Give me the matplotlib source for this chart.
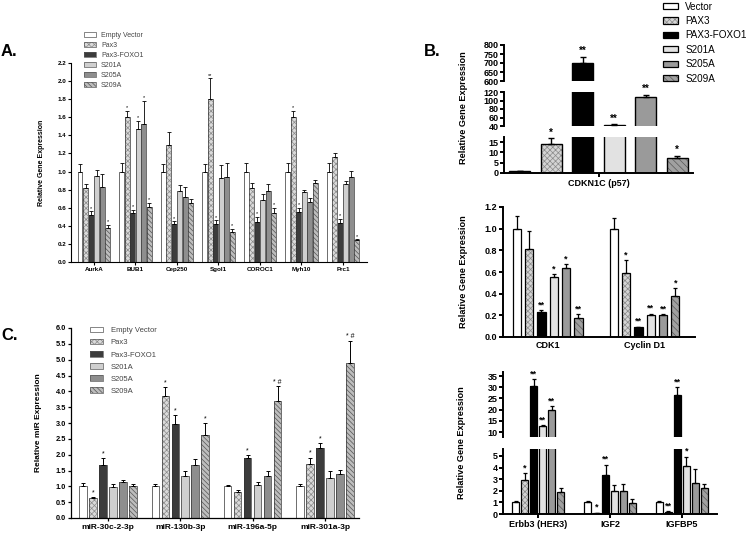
import numpy as np
import matplotlib
matplotlib.use('Agg')
import matplotlib.pyplot as plt
from matplotlib.patches import Patch

plt.rcParams['font.family'] = ['Liberation Sans', 'DejaVu Sans']
plt.rcParams['hatch.linewidth'] = 0.5

W, H = 747, 533

# ---------------- data ----------------
conds_ac = ['Empty Vector', 'Pax3', 'Pax3-FOXO1', 'S201A', 'S205A', 'S209A']
conds_b = ['Vector', 'PAX3', 'PAX3-FOXO1', 'S201A', 'S205A', 'S209A']

# Panel A: rows = genes, columns = conditions
genes_a = ['AurkA', 'BUB1', 'Cep250', 'Sgol1', 'COROC1', 'Myh10', 'Prc1']
a_means = [[1.0, 0.82, 0.52, 0.95, 0.83, 0.38],
           [1.0, 1.60, 0.54, 1.47, 1.53, 0.61],
           [1.0, 1.29, 0.42, 0.79, 0.72, 0.65],
           [1.0, 1.80, 0.42, 0.93, 0.94, 0.33],
           [1.0, 0.82, 0.44, 0.68, 0.78, 0.54],
           [1.0, 1.60, 0.55, 0.77, 0.66, 0.87],
           [1.0, 1.16, 0.43, 0.86, 0.94, 0.24]]
a_errs = [[0.08, 0.04, 0.04, 0.07, 0.14, 0.03],
          [0.09, 0.07, 0.04, 0.09, 0.25, 0.04],
          [0.08, 0.15, 0.03, 0.06, 0.11, 0.05],
          [0.08, 0.23, 0.04, 0.14, 0.15, 0.04],
          [0.10, 0.05, 0.06, 0.07, 0.08, 0.06],
          [0.10, 0.07, 0.05, 0.03, 0.05, 0.04],
          [0.09, 0.05, 0.05, 0.04, 0.07, 0.01]]
a_stars = [['', '', '*', '', '', '*'],
           ['', '*', '*', '*', '*', '*'],
           ['', '', '*', '', '', ''],
           ['', '**', '*', '', '', '*'],
           ['', '', '*', '', '', '*'],
           ['', '*', '*', '', '', ''],
           ['', '', '*', '', '', '*']]

# Panel C
mirs_c = ['miR-30c-2-3p', 'miR-130b-3p', 'miR-196a-5p', 'miR-301a-3p']
c_means = [[1.0, 0.62, 1.67, 0.98, 1.14, 1.01],
           [1.0, 3.85, 2.97, 1.34, 1.66, 2.63],
           [1.0, 0.82, 1.91, 1.03, 1.32, 3.68],
           [1.0, 1.69, 2.22, 1.26, 1.38, 4.88]]
c_errs = [[0.10, 0.04, 0.21, 0.08, 0.06, 0.07],
          [0.08, 0.28, 0.28, 0.14, 0.21, 0.37],
          [0.04, 0.07, 0.07, 0.12, 0.15, 0.48],
          [0.06, 0.22, 0.14, 0.24, 0.14, 0.72]]
c_stars = [['', '*', '*', '', '', ''],
           ['', '*', '*', '', '', '*'],
           ['', '', '*', '', '', '* #'],
           ['', '*', '*', '', '', '* #']]

# Panel B top (CDKN1C)
genes_b1 = ['CDKN1C (p57)']
b1_means = [[1.0, 14.0, 700.0, 43.0, 108.0, 7.2]]
b1_errs = [[0.1, 2.8, 35.0, 1.5, 5.0, 1.3]]
b1_stars = [['', '*', '**', '**', '**', '*']]

# Panel B middle
genes_b2 = ['CDK1', 'Cyclin D1']
b2_means = [[1.0, 0.81, 0.23, 0.55, 0.64, 0.18],
            [1.0, 0.59, 0.09, 0.20, 0.20, 0.38]]
b2_errs = [[0.12, 0.17, 0.015, 0.03, 0.03, 0.03],
           [0.10, 0.12, 0.005, 0.015, 0.01, 0.07]]
b2_stars = [['', '', '**', '*', '*', '**'],
            ['', '*', '**', '**', '**', '*']]

# Panel B bottom
genes_b3 = ['Erbb3 (HER3)', 'IGF2', 'IGFBP5']
b3_means = [[1.0, 2.95, 30.5, 12.5, 20.0, 1.9],
            [1.0, 0.10, 3.4, 1.95, 1.95, 0.95],
            [1.0, 0.20, 26.5, 4.1, 2.7, 2.2]]
b3_errs = [[0.12, 0.6, 3.0, 0.5, 1.5, 0.35],
           [0.15, 0.02, 0.85, 0.55, 0.6, 0.3],
           [0.08, 0.03, 3.5, 0.85, 1.15, 0.4]]
b3_stars = [['', '*', '**', '**', '**', ''],
            ['', '*', '**', '', '', ''],
            ['', '**', '**', '*', '', '']]

# ---------------- styles ----------------
# (face, hatch, hatch colour)
style_ac = [('white', '', 'none'),
            ('#dadada', 'xxxxxx', '#8a8a8a'),
            ('#3c3c3c', '', 'none'),
            ('#cfcfcf', '', 'none'),
            ('#8e8e8e', '', 'none'),
            ('#bdbdbd', '\\\\\\\\\\\\\\', '#555555')]
style_b = [('white', '', 'none'),
           ('#d4d4d4', 'xxxxxx', '#8a8a8a'),
           ('black', '', 'none'),
           ('#e2e2e2', '', 'none'),
           ('#9a9a9a', '', 'none'),
           ('#a0a0a0', '\\\\\\\\\\', '#5a5a5a')]


def px_axes(fig, x0, y0, x1, y1):
    return fig.add_axes([x0 / W, 1 - y1 / H, (x1 - x0) / W, (y1 - y0) / H])


def draw_bars(ax, means, errs, stars, styles, pitch, width, edge, lw,
              elw, cap, star_size):
    means = np.array(means)
    errs = np.array(errs)
    ngene, ncond = means.shape
    for j in range(ncond):
        x = np.arange(ngene) + (j - (ncond - 1) / 2) * pitch
        face, hatch, hcol = styles[j]
        ax.bar(x, means[:, j], width, color=face, hatch=hatch,
               edgecolor=hcol, linewidth=0)
        ax.bar(x, means[:, j], width, fill=False, edgecolor=edge,
               linewidth=lw)
        ax.errorbar(x, means[:, j], yerr=[np.zeros(ngene), errs[:, j]],
                    fmt='none', ecolor='black', elinewidth=elw,
                    capsize=cap, capthick=elw)
        for i in range(ngene):
            if stars[i][j]:
                ax.annotate(stars[i][j], (x[i], means[i, j] + errs[i, j]),
                            xytext=(0, 0.5), textcoords='offset points',
                            ha='center', va='bottom', fontsize=star_size,
                            fontweight='bold' if star_size > 5 else 'normal')


def legend_handles(styles, edge, lw):
    return [(Patch(facecolor=f, hatch=h, edgecolor=hc, linewidth=0),
             Patch(fill=False, edgecolor=edge, linewidth=lw))
            for f, h, hc in styles]


fig = plt.figure(figsize=(W / 100, H / 100), dpi=100)

# ================= Panel A =================
axA = px_axes(fig, 71, 63, 367, 262)
draw_bars(axA, a_means, a_errs, a_stars, style_ac, 0.133, 0.118,
          '#333333', 0.5, 0.6, 1.2, 4)
axA.set_xlim(-0.55, 6.58)
axA.set_ylim(0, 2.2)
axA.set_yticks(np.arange(0, 2.21, 0.2))
axA.set_yticklabels([f'{v:.1f}' for v in np.arange(0, 2.21, 0.2)])
axA.set_xticks(range(len(genes_a)))
axA.set_xticklabels(genes_a)
for s in ['top', 'right']:
    axA.spines[s].set_visible(False)
for s in ['left', 'bottom']:
    axA.spines[s].set_linewidth(0.8)
axA.tick_params(labelsize=4.5, width=0.8, length=2, pad=1.5)
for t in axA.get_xticklabels() + axA.get_yticklabels():
    t.set_fontweight('bold')
axA.set_ylabel('Relative Gene Expression', fontsize=5, fontweight='bold')
axA.yaxis.set_label_coords(-0.088, 0.5)
fig.legend(legend_handles(style_ac, '#555555', 0.5), conds_ac,
           loc='upper left', bbox_to_anchor=(84 / W, 1 - 32 / H),
           frameon=False, fontsize=5, handlelength=1.75, handleheight=0.75,
           handletextpad=0.7, labelspacing=0.42, borderpad=0,
           borderaxespad=0, labelcolor='#444444')

# ================= Panel C =================
axC = px_axes(fig, 71, 328, 359, 518)
draw_bars(axC, c_means, c_errs, c_stars, style_ac, 0.138, 0.104,
          '#333333', 0.5, 0.7, 1.5, 5)
axC.set_xlim(-0.51, 3.47)
axC.set_ylim(0, 6)
axC.set_yticks(np.arange(0, 6.01, 0.5))
axC.set_yticklabels([f'{v:.1f}' for v in np.arange(0, 6.01, 0.5)])
axC.set_xticks(range(len(mirs_c)))
axC.set_xticklabels(mirs_c)
for s in ['top', 'right']:
    axC.spines[s].set_visible(False)
for s in ['left', 'bottom']:
    axC.spines[s].set_linewidth(0.9)
axC.tick_params(axis='y', labelsize=5.3, width=0.9, length=2, pad=1.5)
axC.tick_params(axis='x', labelsize=6, width=0.9, length=2.5, pad=1.5)
for t in axC.get_xticklabels() + axC.get_yticklabels():
    t.set_fontweight('bold')
axC.set_ylabel('Relative miR Expression', fontsize=6, fontweight='bold')
axC.yaxis.set_label_coords(-0.10, 0.5)
axC.legend(legend_handles(style_ac, '#555555', 0.5), conds_ac,
           loc='upper left', bbox_to_anchor=(90 / W, 1 - 327 / H),
           bbox_transform=fig.transFigure,
           frameon=False, fontsize=5.5, handlelength=1.7, handleheight=0.7,
           handletextpad=1.0, labelspacing=0.62, borderpad=0,
           borderaxespad=0, labelcolor='#444444')


# ================= Panel B helpers =================
def style_b_axis(ax, show_x):
    for s in ['top', 'right']:
        ax.spines[s].set_visible(False)
    ax.spines['left'].set_linewidth(1.4)
    ax.spines['bottom'].set_linewidth(1.4)
    if not show_x:
        ax.spines['bottom'].set_visible(False)
        ax.set_xticks([])
    ax.tick_params(labelsize=6.5, width=1.4, length=3, pad=1)
    for t in ax.get_yticklabels() + ax.get_xticklabels():
        t.set_fontweight('bold')


# B top: three-segment broken axis
b1_segments = [((45, 81), (600, 800), [600, 650, 700, 750, 800]),
               ((92, 126), (40, 120), [40, 60, 80, 100, 120]),
               ((137, 173), (0, 17.5), [0, 5, 10, 15])]
for k, ((ytop, ybot), lim, ticks) in enumerate(b1_segments):
    ax = px_axes(fig, 504, ytop, 693, ybot)
    draw_bars(ax, b1_means, b1_errs, b1_stars, style_b, 1.0, 0.68,
              'black', 1.0, 1.0, 2.5, 7)
    ax.set_xlim(-3.0, 3.0)
    ax.set_ylim(*lim)
    ax.set_yticks(ticks)
    last = k == len(b1_segments) - 1
    if last:
        ax.set_xticks([0])
        ax.set_xticklabels(genes_b1, fontsize=6.8)
    style_b_axis(ax, last)
fig.text(463 / W, 1 - 108 / H, 'Relative Gene Expression', rotation=90,
         ha='center', va='center', fontsize=6.6, fontweight='bold')

fig.legend(legend_handles(style_b, 'black', 0.9), conds_b,
           loc='upper left', bbox_to_anchor=(663 / W, 1 - 1.5 / H),
           frameon=False, fontsize=7.1, handlelength=1.5, handleheight=0.6,
           handletextpad=0.75, labelspacing=0.45, borderpad=0,
           borderaxespad=0)

# B middle
axB2 = px_axes(fig, 503, 207, 695, 337)
draw_bars(axB2, b2_means, b2_errs, b2_stars, style_b, 0.127, 0.085,
          'black', 0.9, 0.9, 1.6, 6.5)
axB2.set_xlim(-0.46, 1.52)
axB2.set_ylim(0, 1.2)
axB2.set_yticks(np.arange(0, 1.21, 0.2))
axB2.set_yticklabels([f'{v:.1f}' for v in np.arange(0, 1.21, 0.2)])
axB2.set_xticks(range(len(genes_b2)))
axB2.set_xticklabels(genes_b2, fontsize=6.8)
style_b_axis(axB2, True)
axB2.tick_params(axis='x', length=0, pad=3)
fig.text(463 / W, 1 - 272 / H, 'Relative Gene Expression', rotation=90,
         ha='center', va='center', fontsize=6.6, fontweight='bold')

# B bottom: two-segment broken axis
b3_segments = [((372, 437), (7.8, 36.8), [10, 15, 20, 25, 30, 35]),
               ((449, 514), (0, 5.6), [0, 1, 2, 3, 4, 5])]
for k, ((ytop, ybot), lim, ticks) in enumerate(b3_segments):
    ax = px_axes(fig, 503, ytop, 717, ybot)
    draw_bars(ax, b3_means, b3_errs, b3_stars, style_b, 0.125, 0.093,
              'black', 0.9, 0.9, 1.5, 6.5)
    ax.set_xlim(-0.49, 2.49)
    ax.set_ylim(*lim)
    ax.set_yticks(ticks)
    last = k == len(b3_segments) - 1
    if last:
        ax.set_xticks(range(len(genes_b3)))
        ax.set_xticklabels(genes_b3, fontsize=6.8)
    style_b_axis(ax, last)
fig.text(461 / W, 1 - 443 / H, 'Relative Gene Expression', rotation=90,
         ha='center', va='center', fontsize=6.6, fontweight='bold')

# panel letters
fig.text(1 / W, 1 - 51 / H, 'A.', fontsize=12, fontweight='bold', va='center')
fig.text(424 / W, 1 - 52 / H, 'B.', fontsize=12, fontweight='bold', va='center')
fig.text(1 / W, 1 - 335 / H, 'C.', fontsize=12, fontweight='bold', va='center')

fig.savefig('out.png', dpi=100)
